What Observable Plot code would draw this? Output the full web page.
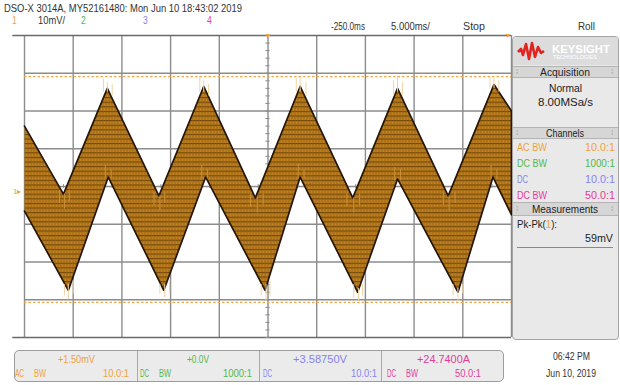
<!DOCTYPE html>
<html><head><meta charset="utf-8">
<script src="https://cdn.jsdelivr.net/npm/d3@7"></script>
<script src="https://cdn.jsdelivr.net/npm/@observablehq/plot@0.6"></script>
<style>
body{margin:0;background:#fff;}
#root{position:relative;width:620px;height:385px;overflow:hidden;font-family:"Liberation Sans",Arial,sans-serif;color:#333;background:#fff;}
#root svg.plot{position:absolute;left:0;top:0;}
.t{position:absolute;white-space:nowrap;line-height:1;}
.box{position:absolute;box-sizing:border-box;}
</style></head><body><div id="root"></div>
<script>
// ---- data (ms on x, mV on y, relative to screen centre) ----
const timeGrid = [0, 5, 10, 15, 20, 25, 30, 35, 40, 45, 50];
const voltGrid = [-30, -20, -10, 0, 10, 20, 30];
const frameVolt = [-40, 40];
const cursorVolt = [29.1, -30.7];

const upperTime = [0, 4.0, 8.5, 13.8, 18.4, 23.7, 28.3, 33.7, 38.3, 43.5, 48.2, 50];
const upperVolt = [16, -2, 26, -2.5, 26.5, -3, 26.5, -3, 26, -2.5, 27, 20];
const lowerTime = [0, 4.5, 8.6, 14.3, 18.6, 24.7, 28.3, 34.2, 38.3, 44.5, 48.1, 50];
const lowerVolt = [-6.5, -27.5, 2.5, -27.5, 2.5, -27.5, 2.5, -28, 2, -28, 2.5, -7.5];

const spikeTime = [8.1, 8.5, 9.0, 18.0, 18.4, 18.9, 27.9, 28.3, 28.9, 37.9, 38.3, 38.8, 47.8, 48.2, 48.7,
                   4.1, 4.5, 5.0, 13.9, 14.4, 14.9, 24.3, 24.8, 25.2, 33.8, 34.3, 34.7, 44.0, 44.5, 45.0];
const spikeFrom = [25, 25, 24, 25, 25, 24, 25, 25, 24, 24, 25, 24, 26, 26, 25,
                   -26, -26, -25, -26, -26, -25, -26, -26, -25, -26, -27, -26, -26, -27, -26];
const spikeTo   = [28.5, 27.5, 27, 29, 28, 27, 28.5, 29, 27.5, 28, 29, 27.5, 29, 28.5, 28,
                   -29, -30, -28.5, -28.5, -29.5, -28.5, -29, -30.5, -29, -29.5, -30.5, -29, -29, -30.5, -28.5];

const notchTime = [3.6, 4.1, 4.6, 13.3, 13.9, 14.4, 23.2, 23.9, 24.5, 33.1, 33.8, 34.4, 43.0, 43.6, 44.2,
                   8.3, 8.9, 18.2, 18.8, 28.1, 28.7, 38.0, 38.6, 47.9, 48.5];
const notchFrom = [-1, -2, -1, -1.5, -2.5, -1.5, -2, -3, -2, -2, -3, -2, -1.5, -2.5, -1.5,
                   2, 2, 2, 2, 2, 2, 1.5, 1.5, 2, 2];
const notchTo   = [-4.5, -6, -4, -5, -6.5, -4.5, -5.5, -7, -5, -5.5, -7, -5, -5, -6.5, -4.5,
                   5.5, 4.5, 5.5, 4.5, 6, 4.5, 5, 4.5, 5.5, 4.5];

// ---- texts ----
const headerText = "DSO-X 3014A, MY52161480: Mon Jun 10 18:43:02 2019";
const channelNums = ["1", "2", "3", "4"];
const vScale = "10mV/";
const timeLabels = ["-250.0ms", "5.000ms/", "Stop", "Roll"];
const couplings = ["AC BW", "DC BW", "DC", "DC BW"];
const probes = ["10.0:1", "1000:1", "10.0:1", "50.0:1"];
const offsets = ["+1.50mV", "+0.0V", "+3.58750V", "+24.7400A"];
const colors = ["#f0a23a", "#52b84a", "#8484ee", "#e23c9a"];

const root = document.getElementById("root");

// ---- build traces ----
const poly = upperTime.map((t, i) => ({t, v: upperVolt[i]}))
  .concat(lowerTime.map((t, i) => ({t, v: lowerVolt[i]})).reverse());
const spikes = spikeTime.map((t, i) => ({t, a: spikeFrom[i], b: spikeTo[i]}));
const notches = notchTime.map((t, i) => ({t, a: notchFrom[i], b: notchTo[i]}));
const minorV = d3.range(-40, 40.01, 2);
const minorT = d3.range(0, 50.01, 1);

const svg = Plot.plot({
  width: 515, height: 345,
  marginLeft: 24, marginRight: 4, marginTop: 35, marginBottom: 8,
  x: {domain: [0, 50], axis: null},
  y: {domain: [-40, 40], axis: null},
  style: {background: "transparent", overflow: "visible"},
  marks: [
    Plot.ruleX(timeGrid, {y1: -40, y2: 40, stroke: "#8c8c8c", strokeWidth: 1.4}),
    Plot.ruleY(voltGrid, {x1: 0, x2: 50, stroke: "#8c8c8c", strokeWidth: 1.4}),
    Plot.ruleY(frameVolt, {x1: -1.2, x2: 50, stroke: "#6a6a6a", strokeWidth: 1.6}),
    Plot.ruleY(minorV, {y: d => d, x1: 24.78, x2: 25.22, stroke: "#8c8c8c"}),
    Plot.ruleX(minorT, {x: d => d, y1: -0.5, y2: 0.5, stroke: "#8c8c8c"}),
    Plot.line(poly, {x: "t", y: "v", fill: "url(#trace)", stroke: "#24170a", strokeWidth: 1.7}),
    Plot.ruleX(spikes, {x: "t", y1: "a", y2: "b", stroke: "#efd3a4", strokeWidth: 1}),
    Plot.ruleX(notches, {x: "t", y1: "a", y2: "b", stroke: "#c98f3a", strokeWidth: 1}),
    Plot.ruleY(cursorVolt, {x1: 0, x2: 50, stroke: "#f2a848", strokeDasharray: "2.5,2", strokeWidth: 1.2})
  ]
});
svg.classList.add("plot");
const ns = "http://www.w3.org/2000/svg";
const defs = document.createElementNS(ns, "defs");
defs.innerHTML = '<pattern id="trace" patternUnits="userSpaceOnUse" width="3" height="4.6">' +
  '<rect width="3" height="4.6" fill="#c0801c"/>' +
  '<rect width="3" height="1.1" fill="#67420d"/>' +
  '<rect width="0.8" height="4.6" fill="#946014"/></pattern>';
svg.prepend(defs);
root.appendChild(svg);

// ---- boxes ----
function B(x, y, w, h, css) {
  const d = document.createElement("div");
  d.className = "box";
  Object.assign(d.style, {left: x + "px", top: y + "px", width: w + "px", height: h + "px"}, css || {});
  root.appendChild(d);
  return d;
}
// right panel
B(512, 36, 107, 304, {border: "1px solid #a4a4a4", borderRadius: "4px", background: "#e9e9e9"});
B(513, 37, 105, 28, {background: "#dcdcdc", borderRadius: "3px 3px 0 0"});
[[66, 12], [127, 12], [202, 14]].forEach(([y, h]) =>
  B(513, y, 105, h, {background: "#d6d6d6", borderTop: "1px solid #b4b4b4", borderBottom: "1px solid #b4b4b4"}));
B(517, 247, 96, 1, {background: "#8a8a8a"});
// logo wave
const logo = document.createElementNS(ns, "svg");
logo.setAttribute("width", "28"); logo.setAttribute("height", "20");
logo.style.position = "absolute"; logo.style.left = "517px"; logo.style.top = "41px";
logo.innerHTML = '<polyline fill="none" stroke="#e0241f" stroke-width="2.6" stroke-linejoin="round" points="1,11 4,8 6,14 9,3 12,18 15,2 18,16 21,6 24,12 27,10"/>';
root.appendChild(logo);
// bottom bar
B(14, 350, 490, 32, {border: "1px solid #9c9c9c", borderRadius: "5px", background: "#ebebeb"});
[137, 259, 381].forEach(x => B(x, 351, 1, 30, {background: "#a8a8a8"}));

// ---- text helper ----
function T(s, x, cy, o = {}) {
  const size = o.size || 11;
  const el = document.createElement("span");
  el.className = "t";
  if (o.html) el.innerHTML = s; else el.textContent = s;
  el.style.fontSize = size + "px";
  el.style.color = o.color || "#333";
  if (o.bold) el.style.fontWeight = "bold";
  root.appendChild(el);
  const W = el.getBoundingClientRect().width;
  const Wf = o.w || W * (o.sx || 0.85);
  const left = o.a === "end" ? x - Wf : o.a === "middle" ? x - Wf / 2 : x;
  el.style.left = left + "px";
  el.style.top = (cy - 0.5 * size) + "px";
  el.style.transform = `scaleX(${Wf / W})`;
  el.style.transformOrigin = "0 0";
}

// header
T(headerText, 4, 8, {size: 11, w: 238, color: "#333"});
T(channelNums[0], 12, 20.5, {size: 10, color: colors[0]});
T(vScale, 38, 20.5, {size: 10, w: 27});
T(channelNums[1], 81, 20.5, {size: 10, color: colors[1]});
T(channelNums[2], 143, 20.5, {size: 10, color: colors[2]});
T(channelNums[3], 207, 20.5, {size: 10, color: colors[3]});
T(timeLabels[0], 331, 26, {size: 10.5, w: 34});
T(timeLabels[1], 391, 26, {size: 10.5, w: 39});
T(timeLabels[2], 463, 26, {size: 10.5, w: 22});
T(timeLabels[3], 578, 26, {size: 10.5, w: 17});

// markers
T("▼", 268, 35, {size: 7, color: "#f0a23a", a: "middle", sx: 1});
T("▼", 508, 35, {size: 7, color: "#f0a23a", a: "middle", sx: 1});
T("1▸", 13, 192, {size: 8, color: "#f0a23a", sx: 1});

// panel
T("KEYSIGHT", 552, 49, {size: 11, bold: true, color: "#ffffff", w: 58});
T("TECHNOLOGIES", 553, 57, {size: 5, color: "#ffffff", w: 44});
["Acquisition", "Channels", "Measurements"].forEach((s, i) => {
  const cy = [72, 133, 209][i];
  T(s, 565, cy, {a: "middle", w: [50, 38, 66][i], color: "#222"});
  T("⁞", 516, cy, {size: 8, color: "#9a9a9a", sx: 1});
  T("⁞", 611, cy, {size: 8, color: "#9a9a9a", sx: 1});
});
T("Normal", 565, 88, {a: "middle", w: 33, color: "#222"});
T("8.00MSa/s", 565, 102, {a: "middle", w: 55, color: "#222"});
[147, 163, 179, 195].forEach((cy, i) => {
  T(couplings[i], 517, cy, {color: colors[i], w: couplings[i] === "DC" ? 11 : 30});
  T(probes[i], 615, cy, {color: colors[i], a: "end", w: 30});
});
T('Pk-Pk(<span style="color:#f0a23a">1</span>):', 517, 224, {html: true, w: 40, color: "#222"});
T("59mV", 613, 238, {a: "end", w: 28, color: "#222"});

// bottom bar
const centers = [76, 198, 320, 443];
const ws = [37, 22, 54, 53];
offsets.forEach((s, i) => T(s, centers[i], 359, {color: colors[i], a: "middle", w: ws[i]}));
const secLeft = [15, 140, 263, 387];
const secRight = [129, 252, 377, 481];
couplings.forEach((s, i) => {
  const parts = s.split(" ");
  T(parts[0], secLeft[i], 373, {color: colors[i], w: 9});
  if (parts[1]) T(parts[1], secLeft[i] + 19, 373, {color: colors[i], w: 12});
  T(probes[i], secRight[i], 373, {color: colors[i], a: "end", w: probes[i] === "1000:1" ? 29 : 26});
});
T("06:42 PM", 571, 357, {a: "middle", w: 37, size: 11.5, color: "#333"});
T("Jun 10, 2019", 571, 374, {a: "middle", w: 50, size: 11.5, color: "#333"});
</script></body></html>
